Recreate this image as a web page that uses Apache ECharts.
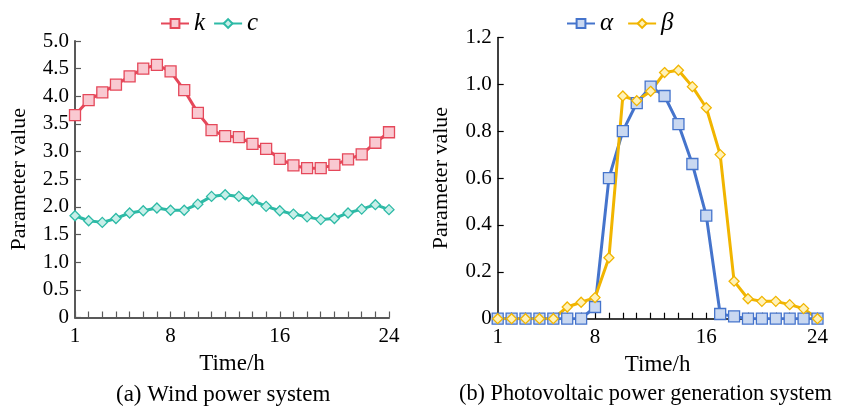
<!DOCTYPE html>
<html>
<head>
<meta charset="utf-8">
<script src="https://cdn.jsdelivr.net/npm/echarts@6/dist/echarts.min.js"></script>
<style>
  html, body { margin: 0; padding: 0; background: #fff; }
  #chart { width: 849px; height: 408px; }
</style>
</head>
<body>
<div id="chart"></div>
<script>
// 数据
var hours = ['1','2','3','4','5','6','7','8','9','10','11','12','13','14','15','16','17','18','19','20','21','22','23','24'];
var shownHours = [0, 7, 15, 23];
var kValues = [3.66, 3.93, 4.07, 4.21, 4.36, 4.50, 4.57, 4.45, 4.11, 3.70, 3.39, 3.28, 3.26, 3.14, 3.05, 2.87, 2.75, 2.70, 2.70, 2.76, 2.86, 2.95, 3.16, 3.35];
var cValues = [1.84, 1.75, 1.72, 1.79, 1.89, 1.93, 1.98, 1.94, 1.94, 2.05, 2.19, 2.22, 2.19, 2.12, 2.01, 1.93, 1.87, 1.82, 1.77, 1.79, 1.89, 1.96, 2.04, 1.95];
var alphaValues = [0, 0, 0, 0, 0, 0, 0, 0.05, 0.60, 0.80, 0.92, 0.99, 0.95, 0.83, 0.66, 0.44, 0.02, 0.01, 0, 0, 0, 0, 0, 0];
var betaValues = [0, 0, 0, 0, 0, 0.05, 0.07, 0.09, 0.26, 0.95, 0.93, 0.97, 1.05, 1.06, 0.99, 0.90, 0.70, 0.16, 0.085, 0.074, 0.074, 0.06, 0.043, 0];
var leftTicks = ['0','0.5','1.0','1.5','2.0','2.5','3.0','3.5','4.0','4.5','5.0'];
var rightTicks = ['0','0.2','0.4','0.6','0.8','1.0','1.2'];

var font = '"Liberation Serif", "Times New Roman", serif';
var chart = echarts.init(document.getElementById('chart'));

// x轴公共配置
function xAxisOf(idx, color, width) {
    return {
        type: 'category',
        gridIndex: idx,
        data: hours,
        boundaryGap: false,
        name: 'Time/h',
        nameLocation: 'middle',
        nameGap: 35,
        nameTextStyle: { fontFamily: font, fontSize: 23, color: '#000' },
        axisLine: { lineStyle: { color: color, width: width } },
        axisTick: { inside: true, length: 6, interval: 0, lineStyle: { color: color, width: 1.2 } },
        axisLabel: {
            interval: function (i) { return shownHours.indexOf(i) >= 0; },
            fontFamily: font, fontSize: 21, color: '#000', margin: 8
        },
        splitLine: { show: false }
    };
}

function yAxisOf(idx, max, step, ticks, color, width) {
    return {
        type: 'value',
        gridIndex: idx,
        min: 0,
        max: max,
        interval: step,
        name: 'Parameter value',
        nameLocation: 'middle',
        nameGap: 45,
        nameTextStyle: { fontFamily: font, fontSize: 22, color: '#000' },
        axisLine: { show: true, lineStyle: { color: color, width: width } },
        axisTick: { show: true, inside: true, length: 6, lineStyle: { color: color, width: 1.2 } },
        axisLabel: {
            fontFamily: font, fontSize: 21, color: '#000', margin: 6,
            formatter: function (v) { return ticks[Math.round(v / step)]; }
        },
        splitLine: { show: false }
    };
}

function lineOf(name, data, idx, color, fill, symbol, size) {
    return {
        name: name,
        type: 'line',
        xAxisIndex: idx,
        yAxisIndex: idx,
        data: data,
        symbol: symbol,
        symbolSize: size,
        showAllSymbol: true,
        lineStyle: { color: color, width: 3 },
        itemStyle: { color: fill, borderColor: color, borderWidth: 1.3 },
        emphasis: { disabled: true }
    };
}

var option = {
    animation: false,
    backgroundColor: '#fff',
    legend: [
        {
            data: ['k', 'c'],
            left: 155, top: 6,
            itemWidth: 28, itemHeight: 11, itemGap: 8,
            textStyle: { fontFamily: font, fontSize: 25, fontStyle: 'italic', color: '#000' }
        },
        {
            data: ['α', 'β'],
            left: 561, top: 6,
            itemWidth: 28, itemHeight: 11, itemGap: 14,
            textStyle: { fontFamily: font, fontSize: 25, fontStyle: 'italic', color: '#000' }
        }
    ],
    grid: [
        { left: 75, right: 460, top: 41, bottom: 90.5 },
        { left: 497.7, right: 31.5, top: 37.4, bottom: 89.3 }
    ],
    xAxis: [xAxisOf(0, '#595959', 2), xAxisOf(1, '#000', 1.5)],
    yAxis: [yAxisOf(0, 5, 0.5, leftTicks, '#595959', 2), yAxisOf(1, 1.2, 0.2, rightTicks, '#000', 1.5)],
    graphic: [
        { type: 'text', top: 383, left: 116, style: { text: '(a) Wind power system', font: '23px ' + font, fill: '#000' } },
        { type: 'text', top: 383, left: 459, style: { text: '(b) Photovoltaic power generation system', font: '22.3px ' + font, fill: '#000' } }
    ],
    series: [
        lineOf('k', kValues, 0, '#e5485a', '#f9c9d1', 'rect', 11),
        lineOf('c', cValues, 0, '#2dbaa6', '#c8efe9', 'diamond', 10),
        lineOf('α', alphaValues, 1, '#4574cc', '#c9d8f1', 'rect', 11),
        lineOf('β', betaValues, 1, '#f1b500', '#fff2b8', 'diamond', 10)
    ]
};

chart.setOption(option);
</script>
</body>
</html>
